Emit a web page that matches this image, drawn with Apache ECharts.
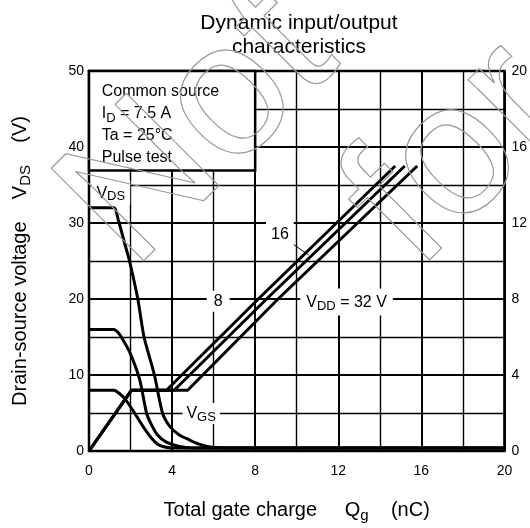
<!DOCTYPE html>
<html><head><meta charset="utf-8">
<script src="https://cdn.jsdelivr.net/npm/echarts@6/dist/echarts.min.js"></script>
<style>html,body{margin:0;padding:0;background:#fff}#c{width:530px;height:528px}</style>
</head><body><div id="c"></div>
<script>
// ---- data (Qg in nC, VDS in V, VGS in V) ----
const vds8  = [[0,8],[1.2,8],[1.45,7.6],[1.75,6.8],[2.1,5.4],[2.4,4.1],[2.68,2.9],[3.0,1.7],[3.3,0.9],[3.6,0.55],[4.0,0.4],[20,0.4]];
const vds16 = [[0,16],[1.2,16],[1.4,15.6],[1.6,14.8],[1.96,13],[2.44,9.4],[2.77,5],[3.0,3.5],[3.3,2.1],[3.7,1.2],[4.35,0.6],[5,0.4],[20,0.4]];
const vds32 = [[0,32],[1.2,32],[1.4,30.5],[1.7,27.5],[1.95,25],[2.35,20],[2.65,15],[3.15,10],[3.54,5],[3.9,3.2],[4.35,2.1],[4.8,1.5],[5.3,0.9],[5.9,0.5],[7,0.4],[20,0.4]];
const vgs8  = [[0,0],[2.05,3.2],[3.73,3.2],[8.15,8],[14.74,15]];
const vgs16 = [[0,0],[2.05,3.2],[4.1,3.2],[8.55,8],[15.2,15]];
const vgs32 = [[0,0],[2.05,3.2],[4.75,3.2],[9.1,8],[15.8,15]];
const xTicks = {min:0, max:20, interval:4};
const vdsTicks = {min:0, max:50, interval:10};
const vgsTicks = {min:0, max:20, interval:4};

const FF = 'Liberation Sans, Arial, sans-serif';
const chart = echarts.init(document.getElementById('c'));
const lineStyle = {color:'#000', width:3, cap:'butt'};
function ser(data, yi, smooth){
  return {type:'line', data, yAxisIndex:yi, showSymbol:false, symbol:'none', smooth:smooth, lineStyle, silent:true, z:5};
}
const subRich = {
  v:{fontSize:16, lineHeight:20, color:'#000', fontFamily:FF, verticalAlign:'middle'},
  s:{fontSize:13, lineHeight:13, color:'#000', fontFamily:FF, verticalAlign:'bottom'}
};
function lab(fmt, pad){
  return {show:true, position:'inside', formatter:fmt, backgroundColor:'#fff', padding:pad, rich:subRich, color:'#000', fontFamily:FF};
}
const s0 = ser(vds32, 0, 0.25);
s0.markArea = {
  silent:true,
  itemStyle:{color:'#fff', borderColor:'#000', borderWidth:2.5},
  label:{show:true, position:[14,11], color:'#000',
    formatter:'{a|Common source}\n{a|I}{s|D}{a| = 7.5 A}\n{a|Ta = 25°C}\n{a|Pulse test}',
    rich:{a:{fontSize:16, lineHeight:22, color:'#000', fontFamily:FF, verticalAlign:'middle'},
          s:{fontSize:13, lineHeight:13, color:'#000', fontFamily:FF, verticalAlign:'bottom'}}},
  data:[[{xAxis:0, yAxis:50},{xAxis:8, yAxis:36.9}]]
};
s0.markPoint = {
  silent:true, symbol:'rect', symbolSize:1, itemStyle:{color:'rgba(0,0,0,0)'}, animation:false,
  data:[
    {coord:[1.05,34.0], label:lab('{v|V}{s|DS}',[3,5,2,5])},
    {coord:[5.4,4.95], label:lab('{v|V}{s|GS}',[1,4,0,4])},
    {coord:[6.22,19.7], label:lab('{v|8}',[1,7,0,7])},
    {coord:[12.4,19.6], label:lab('{v|V}{s|DD}{v| = 32 V}',[4,6,3,6])},
    {coord:[9.19,28.5], label:lab('{v|16}',[6,5,6,5])}
  ]
};
s0.markLine = {
  silent:true, symbol:['none','arrow'], symbolSize:[0,7], animation:false,
  lineStyle:{color:'#000', width:1, type:'solid'}, label:{show:false},
  data:[[{coord:[9.62,27.6]},{coord:[10.57,25.8]}]]
};

chart.setOption({
  animation:false,
  title:{text:'Dynamic input/output\ncharacteristics', left:294, top:6, textAlign:'center',
    textStyle:{fontSize:21, fontWeight:'normal', color:'#000', lineHeight:24, fontFamily:FF}},
  grid:{left:89, right:23, top:71, bottom:73, show:true, borderColor:'#000', borderWidth:2.5, backgroundColor:'rgba(0,0,0,0)'},
  xAxis:{type:'value', min:xTicks.min, max:xTicks.max, interval:xTicks.interval,
    axisLine:{show:false}, axisTick:{show:false},
    axisLabel:{fontSize:14, color:'#000', margin:13, fontFamily:FF},
    splitLine:{show:true, lineStyle:{color:'#000', width:2}},
    minorTick:{show:false, splitNumber:2},
    minorSplitLine:{show:true, lineStyle:{color:'#000', width:1.4}},
    name:'{a|Total gate charge     Q}{s|g}{a|    (nC)}', nameLocation:'middle', nameGap:46,
    nameTextStyle:{rich:{a:{fontSize:20, lineHeight:26, color:'#000', fontFamily:FF, verticalAlign:'middle'},
                         s:{fontSize:15, lineHeight:15, color:'#000', fontFamily:FF, verticalAlign:'bottom'}}}
  },
  yAxis:[
    {type:'value', min:vdsTicks.min, max:vdsTicks.max, interval:vdsTicks.interval,
     axisLine:{show:false}, axisTick:{show:false},
     axisLabel:{fontSize:14, color:'#000', margin:5, fontFamily:FF},
     splitLine:{show:true, lineStyle:{color:'#000', width:2}},
     minorTick:{show:false, splitNumber:2},
     minorSplitLine:{show:true, lineStyle:{color:'#000', width:1.4}},
     name:'{a|Drain-source voltage    V}{s|DS}{a|    (V)}', nameLocation:'middle', nameGap:56,
     nameTextStyle:{rich:{a:{fontSize:20, lineHeight:26, color:'#000', fontFamily:FF, verticalAlign:'middle'},
                          s:{fontSize:15, lineHeight:15, color:'#000', fontFamily:FF, verticalAlign:'bottom'}}}
    },
    {type:'value', position:'right', min:vgsTicks.min, max:vgsTicks.max, interval:vgsTicks.interval,
     axisLine:{show:false}, axisTick:{show:false}, splitLine:{show:false},
     axisLabel:{fontSize:14, color:'#000', margin:7, fontFamily:FF}}
  ],
  graphic:[
    {type:'text', x:163, y:302, rotation:Math.PI/4, z:100, silent:true,
     style:{text:'Not', fontSize:190, fontFamily:FF, fill:'rgba(0,0,0,0)', stroke:'#999', lineWidth:1.2, verticalAlign:'bottom'}},
    {type:'text', x:448, y:302, rotation:Math.PI/4, z:100, silent:true,
     style:{text:'for', fontSize:190, fontFamily:FF, fill:'rgba(0,0,0,0)', stroke:'#999', lineWidth:1.2, verticalAlign:'bottom'}}
  ],
  series:[
    s0, ser(vds16,0,0.25), ser(vds8,0,0.25),
    ser(vgs8,1,false), ser(vgs16,1,false), ser(vgs32,1,false)
  ]
});
</script></body></html>
